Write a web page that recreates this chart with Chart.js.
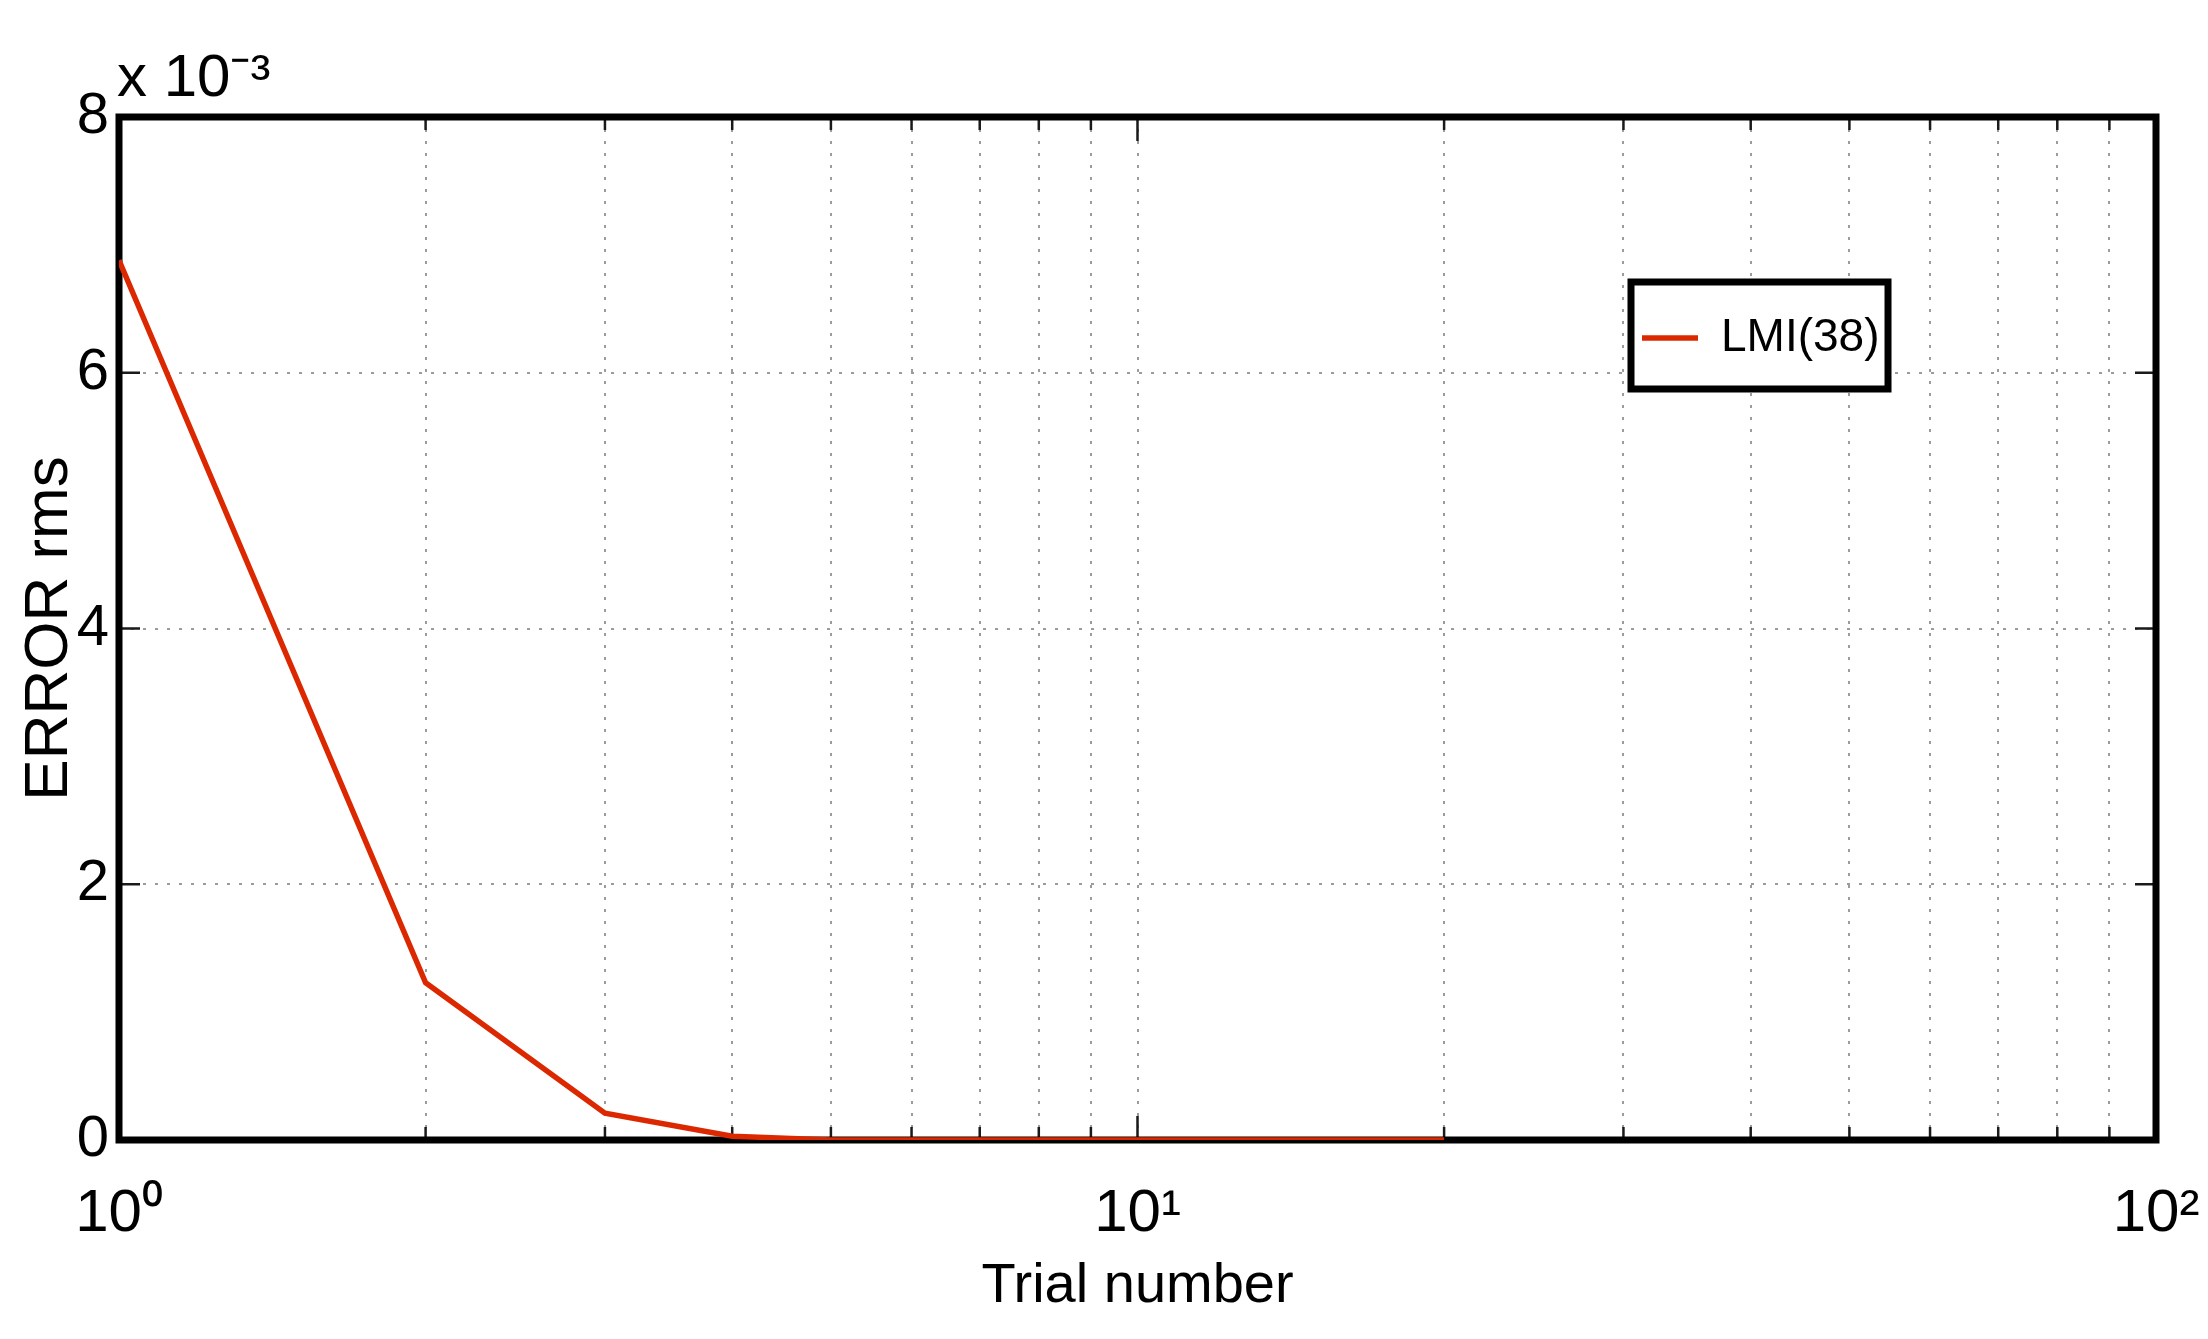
<!DOCTYPE html>
<html lang="en">
<head>
  <meta charset="UTF-8">
  <title>ERROR rms vs Trial number</title>
  <script src="https://cdn.jsdelivr.net/npm/chart.js"></script>
  <style>
    body {
      margin: 0;
      background: #fff;
    }
    canvas {
      display: block;
    }
  </style>
</head>
<body>
<canvas id="errChart" width="2208" height="1339"></canvas>

<script>
  // values (y in units of 1e-3)
  const trialNumber = [1, 2, 3, 4, 5, 6, 7, 8, 9, 10, 11, 12, 13, 14, 15, 16, 17, 18, 19, 20];
  const errorRms = [6.88, 1.23, 0.21, 0.03, 0, 0, 0, 0, 0, 0, 0, 0, 0, 0, 0, 0, 0, 0, 0, 0];

  const xTickValues = [1, 2, 3, 4, 5, 6, 7, 8, 9, 10, 20, 30, 40, 50, 60, 70, 80, 90, 100];
  const xTickLabels = ['10⁰', '', '', '', '', '', '', '', '', '10¹', '', '', '', '', '', '', '', '', '10²'];
  const yTickValues = [0, 2, 4, 6, 8];
  const yTickLabels = ['0', '2', '4', '6', '8'];

  const sans = "'Liberation Sans', Arial, Helvetica, sans-serif";
  const lineRed = '#dc2800';

  // MATLAB style box, inward ticks and a boxed legend
  const matlabFrame = {
    id: 'matlabFrame',
    afterLayout(chart) {
      chart.titleBlock.left = chart.chartArea.left - 2;
      chart.legend.left = 1632;
      chart.legend.top = 305;
    },
    beforeDatasetsDraw(chart) {
      const {ctx, chartArea: a, scales: {x, y}} = chart;
      ctx.save();
      ctx.strokeStyle = '#1a1a1a';
      ctx.lineWidth = 2.5;
      ctx.beginPath();
      x.ticks.forEach(t => {
        const px = x.getPixelForValue(t.value);
        const len = Number.isInteger(Math.log10(t.value)) ? 24 : 13;
        ctx.moveTo(px, a.bottom);
        ctx.lineTo(px, a.bottom - len);
        ctx.moveTo(px, a.top);
        ctx.lineTo(px, a.top + len);
      });
      y.ticks.forEach(t => {
        const py = y.getPixelForValue(t.value);
        ctx.moveTo(a.left, py);
        ctx.lineTo(a.left + 21, py);
        ctx.moveTo(a.right, py);
        ctx.lineTo(a.right - 21, py);
      });
      ctx.stroke();
      ctx.strokeStyle = '#000';
      ctx.lineWidth = 7;
      ctx.strokeRect(a.left, a.top, a.right - a.left, a.bottom - a.top);
      ctx.restore();
    },
    afterDatasetsDraw(chart) {
      const ctx = chart.ctx;
      ctx.save();
      ctx.fillStyle = '#fff';
      ctx.fillRect(1631, 282, 257, 107);
      ctx.strokeStyle = '#000';
      ctx.lineWidth = 7;
      ctx.strokeRect(1631, 282, 257, 107);
      ctx.restore();
      chart.legend.draw();
    }
  };

  const ctx = document.getElementById('errChart').getContext('2d');
  const errChart = new Chart(ctx, {
    type: 'line',
    data: {
      datasets: [
        {
          label: 'LMI(38)',
          data: trialNumber.map((t, i) => ({x: t, y: errorRms[i]})),
          borderColor: lineRed,
          backgroundColor: lineRed,
          borderWidth: 5.5,
          pointRadius: 0,
          tension: 0,
          fill: false,
        }
      ]
    },
    options: {
      responsive: false,
      animation: false,
      events: [],
      layout: {
        padding: {left: 0, right: 52, top: 0, bottom: 0}
      },
      scales: {
        x: {
          type: 'logarithmic',
          min: 1,
          max: 100,
          afterBuildTicks: s => { s.ticks = xTickValues.map(v => ({value: v})); },
          afterFit: s => {
            s.height = 199;
            s.paddingLeft = 0;
            s.paddingRight = 0;
          },
          ticks: {
            autoSkip: false,
            maxRotation: 0,
            padding: 38,
            color: '#000',
            font: {family: sans, size: 60},
            callback: v => {
              const i = xTickValues.indexOf(v);
              return i >= 0 ? xTickLabels[i] : '';
            }
          },
          grid: {color: '#9c9c9c', lineWidth: 2, drawTicks: false},
          border: {display: false, dash: [3, 9]},
          title: {
            display: true,
            text: 'Trial number',
            color: '#000',
            font: {family: sans, size: 56},
            padding: {top: 0, bottom: 19}
          }
        },
        y: {
          min: 0,
          max: 8,
          afterBuildTicks: s => { s.ticks = yTickValues.map(v => ({value: v})); },
          afterFit: s => {
            s.width = 119;
            s.paddingTop = 0;
            s.paddingBottom = 0;
          },
          ticks: {
            padding: 10,
            color: '#000',
            font: {family: sans, size: 58},
            callback: v => {
              const i = yTickValues.indexOf(v);
              return i >= 0 ? yTickLabels[i] : '';
            }
          },
          grid: {color: '#9c9c9c', lineWidth: 2, drawTicks: false},
          border: {display: false, dash: [3, 9]},
          title: {
            display: true,
            text: 'ERROR rms',
            color: '#000',
            font: {family: sans, size: 62},
            padding: {top: 13, bottom: 0}
          }
        }
      },
      plugins: {
        title: {
          display: true,
          text: 'x 10⁻³',
          align: 'start',
          color: '#000',
          font: {family: sans, size: 60, weight: 'normal'},
          padding: {top: 43, bottom: 2}
        },
        legend: {
          position: 'chartArea',
          align: 'start',
          labels: {
            usePointStyle: true,
            pointStyle: 'line',
            pointStyleWidth: 56,
            padding: 10,
            color: '#000',
            font: {family: sans, size: 46}
          }
        },
        tooltip: {enabled: false}
      }
    },
    plugins: [matlabFrame]
  });
</script>
</body>
</html>
